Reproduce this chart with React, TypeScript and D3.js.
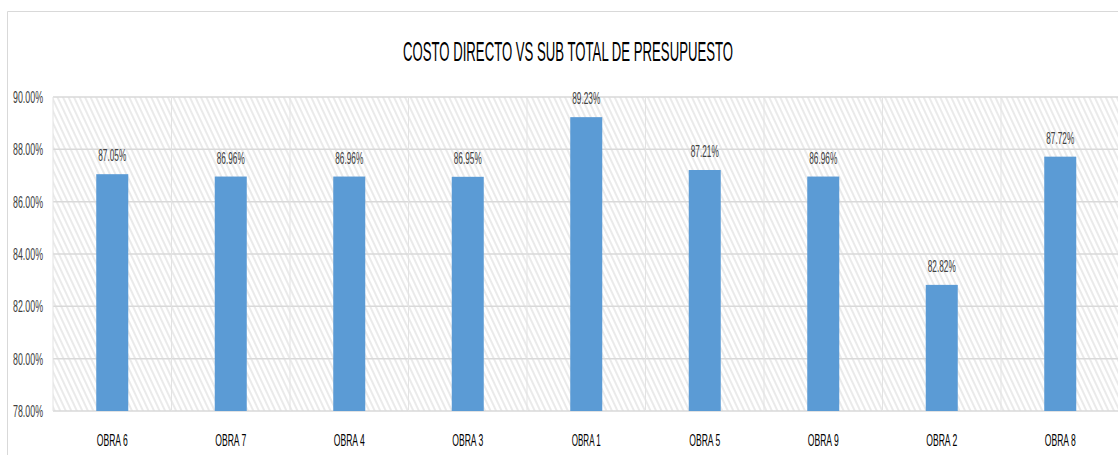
import React from "react";
import * as d3 from "d3";

const categories = ["OBRA 6", "OBRA 7", "OBRA 4", "OBRA 3", "OBRA 1", "OBRA 5", "OBRA 9", "OBRA 2", "OBRA 8"];
const values = [87.05, 86.96, 86.96, 86.95, 89.23, 87.21, 86.96, 82.82, 87.72];
const yTicks = [78, 80, 82, 84, 86, 88, 90];
const title = "COSTO DIRECTO VS SUB TOTAL DE PRESUPUESTO";

export default function App() {
  const W = 1118, H = 455;
  const left = 53, right = 1119.5, top = 97, bottom = 411;
  const x = d3.scaleBand<string>().domain(categories).range([left, right]).paddingInner(0).paddingOuter(0);
  const y = d3.scaleLinear().domain([78, 90]).range([bottom, top]);
  const barW = 32;
  const font = "'Liberation Sans Narrow', 'Liberation Sans', Arial, sans-serif";
  return (
    <svg width={W} height={H} style={{ position: "absolute", left: 0, top: 0 }}>
      <defs>
        <pattern id="hatch" width="5" height="10" patternUnits="userSpaceOnUse" patternTransform="rotate(-25)">
          <rect width="5" height="10" fill="#ffffff" />
          <line x1="1" y1="0" x2="1" y2="10" stroke="#dcdcdc" strokeWidth="1.2" />
        </pattern>
      </defs>
      <rect x={0} y={0} width={W} height={H} fill="#fff" />
      <path d={`M7.5,${H} V11.5 H${W}`} fill="none" stroke="#d9d9d9" strokeWidth={1} />
      <text x={568} y={61} textAnchor="middle" fontFamily={font} fontSize={28} fill="#000"
        textLength={330} lengthAdjust="spacingAndGlyphs">{title}</text>
      <rect x={left} y={top} width={right - left} height={bottom - top} fill="url(#hatch)" />
      {yTicks.map(t => (
        <line key={"g" + t} x1={left} x2={right} y1={y(t)} y2={y(t)} stroke="#d9d9d9" strokeWidth={1.5} />
      ))}
      {categories.map((c, i) => (
        <line key={"v" + c} x1={x(c)!} x2={x(c)!} y1={top} y2={bottom} stroke="#e3e3e3" strokeWidth={1} />
      ))}
      {yTicks.map(t => (
        <text key={"t" + t} x={43} y={y(t) + 6} textAnchor="end" fontFamily={font} fontSize={16} fill="#404040"
          textLength={30} lengthAdjust="spacingAndGlyphs">{t.toFixed(2) + "%"}</text>
      ))}
      {categories.map((c, i) => {
        const cx = x(c)! + x.bandwidth() / 2;
        return (
          <g key={c}>
            <rect x={cx - barW / 2} y={y(values[i])} width={barW} height={bottom - y(values[i])} fill="#5b9bd5" />
            <text x={cx} y={y(values[i]) - 13} textAnchor="middle" fontFamily={font} fontSize={16} fill="#404040"
              textLength={28} lengthAdjust="spacingAndGlyphs">{values[i].toFixed(2) + "%"}</text>
            <text x={cx} y={446} textAnchor="middle" fontFamily={font} fontSize={17} fill="#000"
              textLength={c === "OBRA 1" ? 29 : 31} lengthAdjust="spacingAndGlyphs">{c}</text>
          </g>
        );
      })}
    </svg>
  );
}
